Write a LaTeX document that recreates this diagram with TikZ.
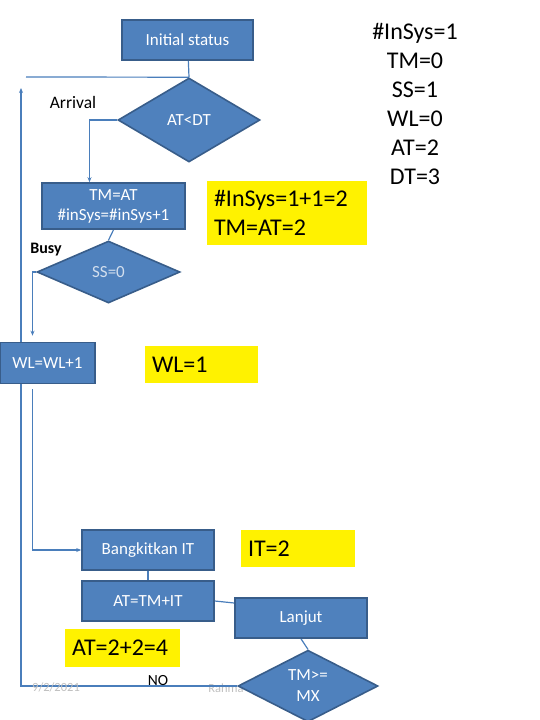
\documentclass[tikz,border=0pt]{standalone}
\usepackage{fontspec}
\setmainfont{Carlito}
\usepackage{tikz}
\usetikzlibrary{shapes.geometric, arrows.meta, positioning, backgrounds}
\definecolor{boxblue}{HTML}{4F81BD}
\definecolor{boxedge}{HTML}{385D8A}
\definecolor{linkblue}{HTML}{4A7EBB}
\begin{document}
\begin{tikzpicture}[x=1pt,y=-1pt,>={Stealth[length=5pt,width=4pt]}]
 \tikzstyle{procbox}=[rectangle,draw=boxedge,line width=1.6pt,fill=boxblue,
   text=white,inner sep=0pt,align=center,font=\fontsize{17}{20}\selectfont]
 \tikzstyle{decbox}=[diamond,draw=boxedge,line width=1.6pt,fill=boxblue,
   text=white,inner sep=0pt,align=center,font=\fontsize{17}{21}\selectfont]
 \tikzstyle{notebox}=[rectangle,fill=yellow,inner xsep=7pt,inner ysep=0pt,
   align=left,font=\fontsize{24}{29}\selectfont]
 \tikzstyle{link}=[draw=linkblue,line width=1.2pt]
 \useasboundingbox (0,0) rectangle (540,720);
 \node (init) [procbox,minimum width=131pt,minimum height=40pt] at (187.5,40) {Initial status};
 \node (atdt) [decbox,minimum width=142pt,minimum height=84pt] at (189,120) {AT<DT};
 \node (arr) [font=\fontsize{17.5}{20}\selectfont] at (73,102) {Arrival};
 \node (tmat) [procbox,minimum width=143pt,minimum height=46pt] at (113.5,206)
   {TM=AT\\\#inSys=\#inSys+1};
 \node (n1) [notebox,text width=146pt,minimum height=64pt] at (287,213)
   {\#InSys=1+1=2\\TM=AT=2};
 \node (busy) [font=\bfseries\fontsize{16}{18}\selectfont] at (46,250) {Busy};
 \node (ss) [decbox,minimum width=143pt,minimum height=62pt,text=boxblue!25!white] at (108.5,272) {SS=0};
 \node (wl) [procbox,minimum width=95pt,minimum height=41pt] at (47.5,363) {WL=WL+1};
 \node (n2) [notebox,text width=99pt,minimum height=37pt] at (201.5,364.5) {WL=1};
 \node (bang) [procbox,minimum width=132pt,minimum height=40pt] at (148,550) {Bangkitkan IT};
 \node (n3) [notebox,text width=100pt,minimum height=37pt] at (298,548.5) {IT=2};
 \node (attm) [procbox,minimum width=132pt,minimum height=40pt] at (148,601) {AT=TM+IT};
 \node (lanjut) [procbox,minimum width=132pt,minimum height=40pt] at (301,618) {Lanjut};
 \node (n4) [notebox,text width=101pt,minimum height=38pt] at (122.5,648) {AT=2+2=4};
 \node (date) [text=black!25,font=\fontsize{12.5}{14}\selectfont] at (56,687) {9/2/2021};
 \node (no) [font=\fontsize{15.5}{18}\selectfont] at (158,681) {NO};
 \node (tmx) [decbox,minimum width=140pt,minimum height=62pt] at (308,686) {TM>=\\MX};
 \node (info) [align=center,font=\fontsize{24}{29}\selectfont] at (415,104)
   {\#InSys=1\\TM=0\\SS=1\\WL=0\\AT=2\\DT=3};
 \coordinate (top) at (26,77);
 \coordinate (back) at (21,88);
 % lines and footer go under the boxes
 \begin{scope}[on background layer]
  \node (auth) [text=black!25,font=\fontsize{12.5}{14}\selectfont] at (226,688) {Rahma};
  \draw[link] (init) -- (atdt.north);
  \draw[link] (top) -- (atdt.north);
  \draw[link,->] (atdt.west) -| ([xshift=-24pt]tmat.north);
  \draw[link] (tmat.south) -- (ss.north);
  \draw[link,->] (ss.west) -| ([xshift=-15pt,yshift=6pt]wl.north);
  \draw[link,->] ([xshift=-15pt,yshift=-5pt]wl.south) |- (bang.west);
  \draw[link] (bang) -- (attm);
  \draw[link] (attm.east) -- ([yshift=15pt]lanjut.west);
  \draw[link] (lanjut.south) -- (tmx.north);
  \draw[link,->] (tmx.west) -| (back);
 \end{scope}
\end{tikzpicture}
\end{document}
